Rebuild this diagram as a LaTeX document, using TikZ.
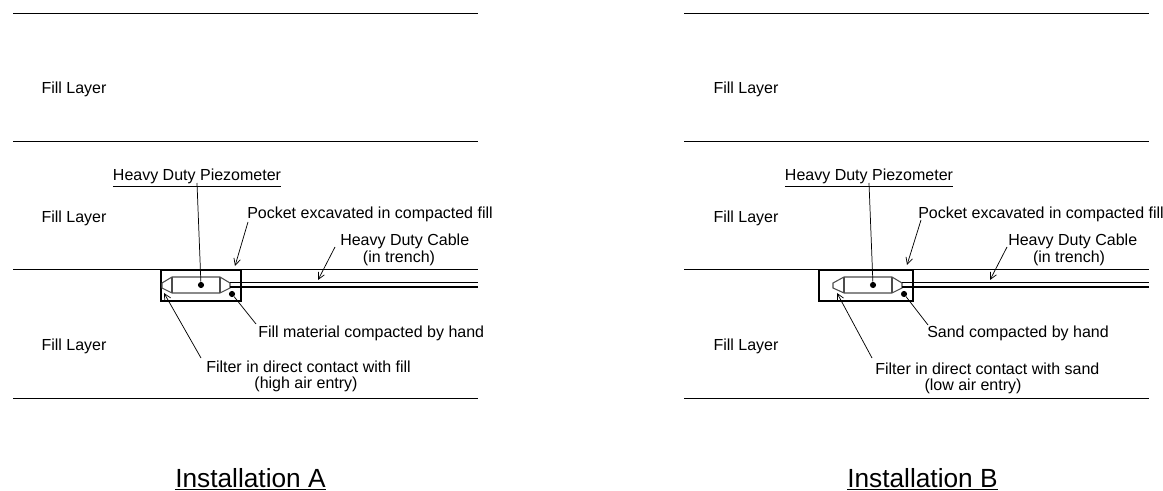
\documentclass[tikz,border=0pt]{standalone}
\usepackage{fontspec}
\setmainfont{Liberation Sans}
\usetikzlibrary{arrows.meta}
\tikzset{
  lab/.style={inner sep=0pt,font=\fontsize{12}{14}\selectfont,anchor=west},
  labc/.style={inner sep=0pt,font=\fontsize{12}{14}\selectfont},
  title/.style={inner sep=0pt,font=\fontsize{19.7}{22}\selectfont,anchor=base west},
  ground/.style={line width=0.6pt,black},
  pocket/.style={line width=0.95pt,black},
  probe/.style={line width=0.8pt,black!70},
  cable/.style={line width=0.95pt,black},
  leader/.style={line width=0.55pt,black},
  arrowed/.style={line width=0.55pt,black,-{Straight Barb[length=5pt,width=5pt]}},
  pt/.style={circle,fill=black,inner sep=0pt,minimum size=4.6pt}
}
\begin{document}
\begin{tikzpicture}[x=0.75pt,y=-0.75pt]
\useasboundingbox (0,0) rectangle (1163,491);
\foreach \n/\y in {a/13,b/141,c/269.5,d/398}{
  \coordinate (A\n l) at (13,\y); \coordinate (A\n r) at (478,\y);
  \draw[ground] (A\n l) -- (A\n r);
  \coordinate (B\n l) at (684,\y); \coordinate (B\n r) at (1149,\y);
  \draw[ground] (B\n l) -- (B\n r);
}
% ---------- Installation A
\node[labc] (Afill1) at (74,89.5) {Fill Layer};
\node[labc] (Afill2) at (74,218) {Fill Layer};
\node[labc] (Afill3) at (74,346) {Fill Layer};
\node[labc] (Apiezo) at (197,178) {\underline{Heavy Duty Piezometer}};
\node[lab] (Apocket) at (247,214) {Pocket excavated in compacted fill};
\node[lab] (Acable) at (340,241) {Heavy Duty Cable};
\node[labc] (Atrench) at (399,258) {(in trench)};
\node[lab] (Asand) at (258,333.5) {Fill material compacted by hand};
\node[lab] (Afilter) at (206,367) {Filter in direct contact with fill};
\node[labc] (Aentry) at (306,384) {(high air entry)};
\node[title] (Atitle) at (175,487) {\underline{Installation A}};
\draw[pocket] (161,270) rectangle (241,301);
\node[pt] (Adot) at (201,285) {};
\node[pt] (Asdot) at (232,294) {};
\draw[probe] (172,277) -- (220,277) -- (230,283) -- (230,288) -- (220,293) -- (172,293) -- (162,288) -- (162,283) -- cycle;
\draw[probe] (172,277) -- (172,293) (220,277) -- (220,293);
\coordinate (Ac1r) at (478,282.5); \coordinate (Ac2r) at (478,287);
\draw[cable] (230,282.5) -- (Ac1r);
\draw[cable] (230,287) -- (Ac2r);
\coordinate (Apl) at (197,183);
\draw[leader] (Apl) -- (Adot);
\coordinate (Apa) at (248,222); \coordinate (Apb) at (235,266);
\draw[arrowed] (Apa) -- (Apb);
\coordinate (Aca) at (335,247); \coordinate (Acb) at (318,280);
\draw[arrowed] (Aca) -- (Acb);
\coordinate (Afa) at (201,358); \coordinate (Afb) at (164,293);
\draw[arrowed] (Afa) -- (Afb);
\coordinate (Asa) at (256,324);
\draw[leader] (Asa) -- (Asdot);
% ---------- Installation B
\node[labc] (Bfill1) at (746,89.5) {Fill Layer};
\node[labc] (Bfill2) at (746,218) {Fill Layer};
\node[labc] (Bfill3) at (746,346) {Fill Layer};
\node[labc] (Bpiezo) at (869,178) {\underline{Heavy Duty Piezometer}};
\node[lab] (Bpocket) at (918,214) {Pocket excavated in compacted fill};
\node[lab] (Bcable) at (1008,241) {Heavy Duty Cable};
\node[labc] (Btrench) at (1069,258) {(in trench)};
\node[lab] (Bsand) at (927,333.5) {Sand compacted by hand};
\node[lab] (Bfilter) at (875,368.5) {Filter in direct contact with sand};
\node[labc] (Bentry) at (973,386) {(low air entry)};
\node[title] (Btitle) at (847,487) {\underline{Installation B}};
\draw[pocket] (819,270) rectangle (913,301);
\node[pt] (Bdot) at (873,285) {};
\node[pt] (Bsdot) at (904,294) {};
\draw[probe] (844,277) -- (892,277) -- (902,283) -- (902,288) -- (892,293) -- (844,293) -- (833,288) -- (833,283) -- cycle;
\draw[probe] (844,277) -- (844,293) (892,277) -- (892,293);
\coordinate (Bc1r) at (1149,282.5); \coordinate (Bc2r) at (1149,287);
\draw[cable] (902,282.5) -- (Bc1r);
\draw[cable] (902,287) -- (Bc2r);
\coordinate (Bpl) at (869,183);
\draw[leader] (Bpl) -- (Bdot);
\coordinate (Bpa) at (921,220); \coordinate (Bpb) at (907,265);
\draw[arrowed] (Bpa) -- (Bpb);
\coordinate (Bca) at (1007,247); \coordinate (Bcb) at (990,280);
\draw[arrowed] (Bca) -- (Bcb);
\coordinate (Bfa) at (872,358); \coordinate (Bfb) at (837,293);
\draw[arrowed] (Bfa) -- (Bfb);
\coordinate (Bsa) at (928,325);
\draw[leader] (Bsa) -- (Bsdot);
\end{tikzpicture}
\end{document}
